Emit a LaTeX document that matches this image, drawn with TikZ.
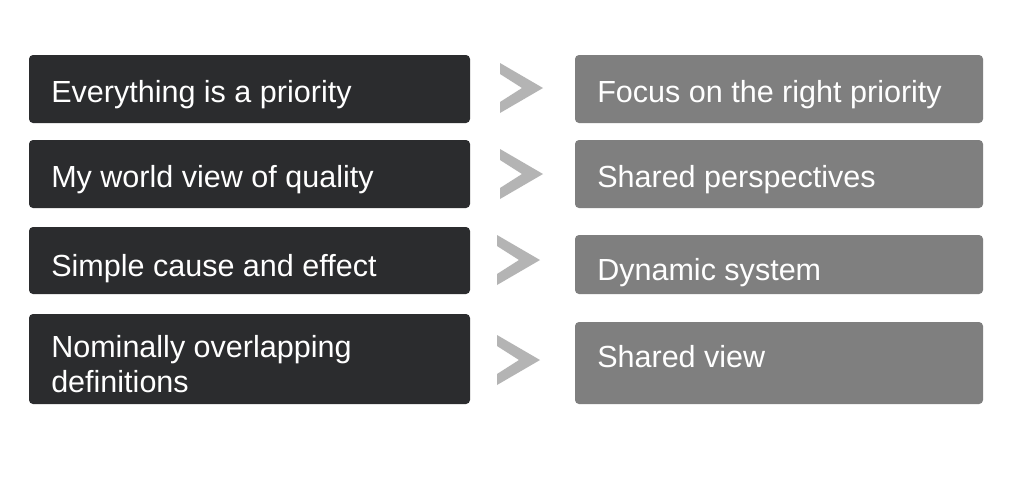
\documentclass[tikz,border=0pt]{standalone}
\usepackage{fontspec}
\setmainfont{Liberation Sans}
\definecolor{darkbox}{HTML}{2B2C2E}
\definecolor{greybox}{HTML}{7F7F7F}
\definecolor{chev}{HTML}{B4B4B4}
\begin{document}
\begin{tikzpicture}[x=0.75pt,y=-0.75pt,
  leftbox/.style={fill=darkbox,rounded corners=3pt},
  rightbox/.style={fill=greybox,rounded corners=3pt},
  chevshape/.style={fill=chev},
  lbl/.style={anchor=base west,inner sep=0pt,text=white,font=\fontsize{22.9pt}{26pt}\selectfont}]
\useasboundingbox[fill=white] (0,0) rectangle (1016,483);
% left boxes
\path[leftbox] (29,55) rectangle (470,123);
\path[leftbox] (29,140) rectangle (470,208);
\path[leftbox] (29,227) rectangle (470,294);
\path[leftbox] (29,314) rectangle (470,404);
% right boxes
\path[rightbox] (575,55) rectangle (983,123);
\path[rightbox] (575,140) rectangle (983,208);
\path[rightbox] (575,235) rectangle (983,294);
\path[rightbox] (575,322) rectangle (983,404);
% chevrons
\foreach \x/\y in {500/88, 500/174, 497/260, 497/360}{
  \fill[chevshape] (\x,\y-25) -- (\x+43,\y) -- (\x,\y+25) -- (\x,\y+14) -- (\x+22,\y) -- (\x,\y-14) -- cycle;
}
% texts
\node[lbl] (l1) at (51,102) {Everything is a priority};
\node[lbl] (l2) at (51,187) {My world view of quality};
\node[lbl] (l3) at (51,276) {Simple cause and effect};
\node[lbl] (l4a) at (51,357) {Nominally overlapping};
\node[lbl] (l4b) at (51,392) {definitions};
\node[lbl] (r1) at (597,102) {Focus on the right priority};
\node[lbl] (r2) at (597,187) {Shared perspectives};
\node[lbl] (r3) at (597,280) {Dynamic system};
\node[lbl] (r4) at (597,367) {Shared view};
\end{tikzpicture}
\end{document}
